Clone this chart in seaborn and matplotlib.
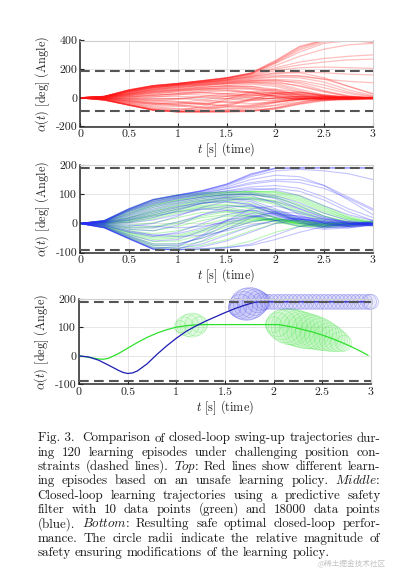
import matplotlib
matplotlib.use("Agg")
import matplotlib.pyplot as plt
import pandas as pd
import seaborn as sns

# ---------------- data ----------------
T = [0, 0.25, 0.5, 0.75, 1.0, 1.25, 1.5, 1.75, 2.0, 2.25, 2.5, 2.75, 3.0]

red_runs = [
    [0, -15, -50, -85, -97, -95, -85, -60, -30, -10, -3, 0, 0],
    [0, -15, -50, -85, -97, -98, -97, -90, -70, -40, -15, -5, -2],
    [0, -15, -50, -85, -96, -80, -50, -20, 0, 10, 5, 0, 0],
    [0, -15, -52, -86, -97, -90, -60, -10, 30, 40, 20, 5, 0],
    [0, -14, -48, -80, -90, -60, -10, 40, 60, 40, 15, 0, -5],
    [0, -15, -50, -85, -98, -99, -99, -95, -80, -45, -20, -10, -5],
    [0, 10, 55, 85, 100, 120, 140, 175, 260, 360, 405, 400, 385],
    [0, 10, 55, 85, 100, 118, 138, 170, 250, 345, 400, 405, 395],
    [0, 9, 50, 82, 98, 116, 135, 168, 240, 320, 380, 398, 400],
    [0, 10, 55, 85, 100, 118, 137, 165, 225, 290, 340, 370, 380],
    [0, 9, 50, 80, 97, 114, 132, 160, 210, 250, 275, 290, 300],
    [0, 9, 50, 80, 96, 112, 130, 155, 200, 230, 250, 265, 270],
    [0, 8, 45, 75, 92, 108, 125, 150, 190, 210, 215, 210, 205],
    [0, 8, 45, 75, 92, 108, 125, 148, 175, 180, 175, 165, 160],
    [0, 8, 42, 70, 88, 105, 120, 140, 160, 150, 130, 115, 105],
    [0, 5, 30, 60, 80, 95, 110, 120, 115, 80, 40, 10, 0],
    [0, 5, 25, 50, 70, 85, 100, 110, 100, 60, 20, 0, -5],
    [0, 3, 20, 40, 55, 70, 85, 95, 80, 40, 10, -5, 0],
    [0, 2, 10, 25, 45, 60, 75, 80, 60, 20, -10, -15, -5],
    [0, 0, 5, 15, 30, 50, 65, 60, 30, 0, -15, -10, 0],
    [0, -2, -5, 5, 20, 40, 50, 40, 10, -15, -20, -5, 5],
    [0, -5, -15, -20, -10, 10, 30, 40, 30, 10, -5, -10, -5],
    [0, -8, -25, -40, -35, -15, 10, 30, 40, 30, 10, 0, 0],
    [0, -10, -35, -55, -60, -45, -20, 10, 30, 20, 0, -10, -5],
    [0, -12, -40, -70, -80, -70, -45, -10, 20, 25, 10, -5, 0],
    [0, 4, 28, 55, 75, 90, 105, 115, 120, 110, 70, 30, 5],
    [0, 6, 35, 65, 85, 100, 115, 125, 130, 120, 90, 40, 10],
    [0, -5, -20, -35, -50, -65, -70, -55, -30, -10, 0, 5, 0],
    [0, 2, 15, 35, 50, 55, 50, 35, 15, 0, -10, -5, 0],
    [0, -3, -10, -15, -25, -45, -60, -50, -20, 5, 15, 5, 0],
    [0, 7, 40, 70, 90, 105, 120, 135, 150, 155, 130, 80, 30],
    [0, -10, -30, -45, -45, -30, -5, 20, 35, 35, 20, 5, -5],
    [0, 3, 22, 45, 60, 75, 85, 80, 50, 15, -5, -10, -10],
    [0, 8, 45, 72, 85, 95, 105, 118, 125, 100, 50, 15, 0],
    [0, 6, 38, 62, 78, 90, 100, 105, 90, 50, 10, -5, 0],
    [0, 4, 30, 52, 65, 75, 80, 70, 40, 5, -10, -5, 5],
    [0, 3, 25, 45, 58, 65, 60, 40, 10, -10, -10, 0, 0],
    [0, 1, 15, 32, 40, 38, 25, 5, -10, -10, 0, 5, 0],
    [0, 0, 8, 20, 25, 20, 10, 0, -5, -5, 0, 0, 0],
    [0, -2, 0, 8, 10, 5, -5, -15, -20, -10, 0, 5, 0],
    [0, -4, -8, -5, -5, -15, -30, -40, -30, -10, 5, 5, 0],
    [0, -6, -18, -25, -30, -40, -55, -65, -55, -30, -5, 5, 0],
    [0, -8, -28, -45, -55, -70, -85, -90, -75, -40, -10, 0, 0],
    [0, -11, -38, -62, -75, -88, -95, -92, -70, -30, -5, 0, -5],
    [0, -13, -45, -75, -90, -95, -90, -70, -35, -5, 10, 5, 0],
    [0, -15, -50, -85, -97, -98, -95, -80, -50, -15, 5, 5, 0],
    [0, 9, 50, 80, 95, 110, 125, 145, 170, 175, 140, 80, 25],
    [0, 7, 42, 72, 88, 100, 112, 130, 145, 140, 110, 55, 15],
    [0, 5, 32, 58, 72, 85, 95, 105, 105, 85, 45, 10, -5],
    [0, 2, 18, 38, 52, 62, 68, 65, 50, 25, 0, -10, -5],
    [0, -1, 5, 18, 30, 35, 30, 20, 5, -5, -5, 0, 0],
    [0, -3, -8, -10, -5, 5, 15, 20, 15, 5, -5, -5, 0],
    [0, -7, -22, -35, -42, -40, -30, -15, 0, 10, 10, 0, 0],
    [0, 10, 55, 85, 100, 120, 140, 172, 255, 355, 400, 400, 390],
    [0, 10, 53, 84, 99, 118, 138, 168, 245, 335, 390, 402, 398],
]

blue_runs = [
    [0, -15, -52, -88, -90, -86, -82, -75, -55, -30, -10, 0, 0],
    [0, -15, -52, -88, -90, -80, -60, -30, 0, 15, 10, 0, -5],
    [0, -15, -52, -88, -88, -60, -20, 20, 40, 35, 15, 0, 0],
    [0, -14, -50, -85, -80, -40, 10, 50, 60, 40, 15, 5, 0],
    [0, 10, 50, 82, 97, 112, 135, 170, 190, 190, 190, 190, 190],
    [0, 10, 50, 82, 97, 112, 133, 165, 188, 190, 190, 190, 190],
    [0, 9, 48, 80, 96, 110, 130, 160, 180, 185, 180, 170, 150],
    [0, 8, 45, 75, 92, 105, 120, 140, 150, 150, 130, 90, 50],
    [0, 8, 42, 70, 88, 100, 112, 125, 130, 120, 90, 50, 20],
    [0, 5, 25, 50, 70, 85, 95, 100, 85, 50, 20, 5, 0],
    [0, 3, 15, 35, 55, 75, 90, 95, 70, 30, 0, -10, -5],
    [0, 0, 5, 20, 45, 70, 85, 75, 40, 5, -15, -10, 0],
    [0, -3, -10, 0, 25, 55, 75, 65, 30, 0, -15, -10, -5],
    [0, -5, -20, -25, -5, 30, 55, 60, 35, 5, -10, -5, 0],
    [0, -8, -30, -45, -30, 0, 30, 45, 40, 15, -5, -10, 0],
    [0, -10, -38, -60, -55, -25, 10, 35, 35, 15, 0, -5, 0],
    [0, -12, -45, -75, -75, -45, -5, 25, 35, 25, 5, -5, 5],
    [0, 2, 10, 25, 40, 50, 45, 30, 10, -10, -20, -15, -5],
    [0, -2, -5, -10, -15, -10, 5, 20, 30, 25, 10, 0, -5],
    [0, 4, 20, 45, 65, 80, 90, 80, 50, 20, 0, -5, 10],
    [0, -6, -25, -40, -45, -40, -25, -5, 10, 20, 15, 5, 0],
    [0, 6, 35, 65, 85, 100, 110, 120, 115, 95, 60, 30, 10],
    [0, 9, 47, 78, 94, 108, 125, 150, 165, 160, 130, 80, 30],
    [0, 7, 40, 68, 84, 95, 105, 115, 120, 110, 80, 40, 10],
    [0, 5, 28, 55, 75, 90, 100, 105, 95, 70, 35, 10, 0],
    [0, 2, 12, 30, 50, 68, 80, 85, 75, 50, 20, 0, -5],
    [0, -1, 2, 12, 30, 48, 60, 60, 45, 20, 0, -10, -5],
    [0, -4, -15, -15, 5, 30, 45, 45, 30, 10, -5, -5, 5],
    [0, -7, -28, -40, -35, -15, 10, 25, 25, 15, 5, 0, 0],
    [0, -11, -42, -70, -70, -50, -20, 5, 20, 15, 5, 0, -5],
    [0, -13, -48, -82, -85, -70, -40, -10, 10, 15, 5, -5, 0],
    [0, -15, -52, -88, -90, -88, -84, -70, -40, -10, 5, 5, 0],
    [0, 8, 44, 74, 90, 103, 118, 135, 145, 140, 120, 85, 45],
    [0, 10, 50, 82, 97, 112, 134, 168, 189, 190, 190, 190, 190],
    [0, 6, 32, 60, 78, 90, 98, 100, 90, 60, 25, 0, -10],
    [0, 3, 18, 40, 58, 70, 75, 65, 40, 10, -10, -15, -5],
]

green_runs = [
    [0, 10, 50, 82, 98, 105, 108, 110, 110, 95, 60, 25, 5],
    [0, 9, 45, 75, 92, 100, 105, 108, 105, 85, 50, 20, 0],
    [0, 7, 38, 65, 82, 95, 100, 100, 90, 65, 35, 10, 0],
    [0, 5, 28, 55, 72, 85, 92, 90, 75, 45, 15, 0, -5],
    [0, 3, 18, 40, 60, 75, 80, 70, 45, 15, -5, -10, 0],
    [0, 1, 10, 28, 48, 62, 65, 50, 20, -5, -15, -5, 0],
    [0, 0, 3, 15, 35, 50, 50, 35, 10, -10, -10, 0, 5],
    [0, -2, -6, 2, 20, 38, 40, 25, 5, -10, -5, 5, 0],
    [0, -4, -15, -15, 0, 20, 30, 25, 10, -5, -10, 0, 0],
    [0, -6, -25, -35, -25, -5, 15, 20, 10, 0, -5, -5, 0],
    [0, -9, -35, -55, -50, -30, -5, 10, 15, 5, 0, 0, 0],
    [0, -11, -42, -70, -70, -50, -20, 5, 15, 10, 0, -5, 0],
    [0, -13, -48, -80, -85, -75, -55, -25, 0, 10, 5, 0, 0],
    [0, -14, -50, -85, -90, -88, -80, -60, -30, -10, 0, 0, 0],
    [0, 2, 12, 30, 50, 68, 80, 85, 70, 40, 10, -5, -5],
    [0, 6, 32, 60, 78, 90, 98, 102, 95, 75, 40, 15, 5],
    [0, -3, -12, -10, 5, 25, 40, 40, 20, 0, -10, -5, 0],
    [0, -7, -30, -45, -40, -20, 5, 15, 10, 0, -5, 0, 5],
    [0, 10, 48, 80, 96, 104, 108, 110, 108, 90, 55, 20, 0],
    [0, 8, 42, 70, 88, 98, 104, 106, 100, 80, 45, 15, 0],
    [0, 6, 35, 62, 80, 92, 98, 98, 88, 60, 25, 5, -5],
    [0, 4, 22, 48, 68, 80, 86, 82, 65, 35, 5, -10, -5],
    [0, 2, 14, 35, 55, 70, 72, 60, 35, 5, -10, -5, 5],
    [0, -1, 5, 20, 40, 55, 55, 42, 20, 0, -10, -5, 0],
    [0, -5, -20, -25, -10, 10, 25, 25, 15, 0, -5, 0, 0],
    [0, -8, -32, -50, -45, -25, 0, 15, 15, 5, -5, -5, 0],
    [0, -12, -45, -75, -78, -62, -35, -10, 10, 10, 0, 0, 0],
    [0, -10, -38, -62, -60, -40, -12, 8, 15, 8, 0, 0, 5],
    [0, 3, 20, 42, 62, 78, 88, 88, 78, 55, 25, 5, 0],
    [0, 0, 8, 25, 42, 58, 62, 55, 35, 10, -5, -5, 0],
]

# bottom panel: resulting closed-loop trajectories
blue_t = [0, 0.1, 0.2, 0.3, 0.4, 0.45, 0.5, 0.55, 0.6, 0.7, 0.8, 0.9, 1.0, 1.1,
          1.2, 1.3, 1.4, 1.5, 1.6, 1.7, 1.8, 1.85, 2.0, 2.5, 3.0]
blue_a = [0, -4, -15, -32, -50, -58, -62, -60, -53, -28, 5, 35, 62, 86,
          105, 122, 137, 152, 166, 178, 188, 190, 190, 190, 190]
green_t = [0, 0.1, 0.2, 0.25, 0.3, 0.4, 0.5, 0.6, 0.7, 0.8, 0.9, 1.0, 1.1, 1.2,
           1.3, 2.05, 2.2, 2.4, 2.5, 2.6, 2.7, 2.8, 2.9, 2.97]
green_a = [0, -5, -11, -12, -9, 7, 27, 47, 65, 80, 92, 101, 106, 109,
           110, 110, 101, 84, 73, 61, 47, 32, 15, 2]

# safety-filter modification circles (centre time, angle, radius in px)
bcirc_t = [1.60, 1.63, 1.66, 1.69, 1.72, 1.75, 1.78, 1.81, 1.84, 1.87, 1.90,
           1.94, 1.98, 2.02, 2.06, 2.10, 2.14, 2.18, 2.22, 2.26, 2.30, 2.34,
           2.38, 2.42, 2.46, 2.50, 2.54, 2.58, 2.62, 2.66, 2.70, 2.74, 2.78,
           2.82, 2.86, 2.90, 2.94, 2.98, 3.00]
bcirc_a = [166, 170, 174, 177, 181, 184, 186, 188, 190, 190, 190,
           190, 190, 190, 190, 190, 190, 190, 190, 190, 190, 190,
           190, 190, 190, 190, 190, 190, 190, 190, 190, 190, 190,
           190, 190, 190, 190, 190, 190]
bcirc_r = [6, 9, 12, 14, 16, 16, 15, 13, 11, 9, 8,
           7.5, 7.5, 7.5, 7.5, 7.5, 7.5, 7.5, 7.5, 7.5, 7.5, 7.5,
           7.5, 7.5, 7.5, 7.5, 7.5, 7.5, 7.5, 7.5, 7.5, 7.5, 7.5,
           7.5, 7.5, 7.5, 7.5, 7.5, 7.5]

gcirc_t = [1.04, 1.08, 1.12, 1.16, 1.20, 1.24,
           2.00, 2.04, 2.08, 2.12, 2.16, 2.20, 2.24, 2.28, 2.32, 2.36, 2.40,
           2.44, 2.48, 2.52, 2.56, 2.60, 2.64, 2.68, 2.72]
gcirc_a = [103, 105, 107, 108, 109, 110,
           110, 110, 109, 106, 103, 101, 97, 93, 89, 86, 84,
           80, 76, 71, 66, 61, 55, 50, 44]
gcirc_r = [6, 9, 11, 12, 11, 8,
           8, 12, 15, 17, 18, 18, 18, 18, 18, 17.5, 17,
           16.5, 16, 15, 14, 13, 11.5, 10, 8]

limits_top = [190, -90]
limits_mid = [190, -90]
limits_bot = [190, -90]

xticks = [0, 0.5, 1, 1.5, 2, 2.5, 3]
xtick_labels = ["0", "0.5", "1", "1.5", "2", "2.5", "3"]
yticks_top = [-200, 0, 200, 400]
ytick_labels_top = ["-200", "0", "200", "400"]
yticks_mid = [-100, 0, 100, 200]
ytick_labels_mid = ["-100", "0", "100", "200"]

caption_lines = [
    "Fig.~3.~ Comparison of closed-loop swing-up trajectories dur-",
    "ing 120 learning episodes under challenging position con-",
    "straints (dashed lines). *Top*: Red lines show different learn-",
    "ing episodes based on an unsafe learning policy. *Middle*:",
    "Closed-loop learning trajectories using a predictive safety",
    "filter with 10 data points (green) and 18000 data points",
    "(blue). *Bottom*: Resulting safe optimal closed-loop perfor-",
    "mance. The circle radii indicate the relative magnitude of",
    "safety ensuring modifications of the learning policy.",
]
watermark = "@稀土掘金技术社区"


def long_df(runs):
    rows = []
    for i, run in enumerate(runs):
        for t, a in zip(T, run):
            rows.append((i, t, a))
    return pd.DataFrame(rows, columns=["run", "t", "alpha"])


# ---------------- style ----------------
sns.set_style("white")
plt.rcParams.update({
    "font.family": ["cmr10", "DejaVu Serif"],
    "mathtext.fontset": "cm",
    "axes.formatter.use_mathtext": True,
    "lines.scale_dashes": False,
    "font.size": 8,
})

W, H = 397, 569
fig = plt.figure(figsize=(W / 100, H / 100), dpi=100)


def add_axes(left, right, top, bottom):
    return fig.add_axes([left / W, 1 - bottom / H, (right - left) / W, (bottom - top) / H])


ax1 = add_axes(80, 373, 40.5, 126.5)
ax2 = add_axes(80, 373, 165, 252.7)
ax3 = add_axes(79, 371, 299, 384.3)

RED = "#ff1414"
BLUE = "#2a2aff"
GREEN = "#2fe62f"

sns.lineplot(data=long_df(red_runs), x="t", y="alpha", units="run", estimator=None,
             color=RED, alpha=0.27, lw=0.9, ax=ax1, legend=False)
sns.lineplot(data=long_df(green_runs), x="t", y="alpha", units="run", estimator=None,
             color=GREEN, alpha=0.33, lw=0.8, ax=ax2, legend=False)
sns.lineplot(data=long_df(blue_runs), x="t", y="alpha", units="run", estimator=None,
             color=BLUE, alpha=0.28, lw=0.8, ax=ax2, legend=False)

# bottom panel circles
px2pt = 72 / 100
ax3.scatter(gcirc_t, gcirc_a, s=[(2 * r * px2pt) ** 2 for r in gcirc_r],
            facecolors=(0.2, 0.9, 0.2, 0.05), edgecolors=(0.2, 0.88, 0.2, 0.3),
            linewidths=0.5, clip_on=False, zorder=2)
ax3.scatter(bcirc_t, bcirc_a, s=[(2 * r * px2pt) ** 2 for r in bcirc_r],
            facecolors=(0.3, 0.3, 0.95, 0.06), edgecolors=(0.25, 0.25, 0.9, 0.32),
            linewidths=0.5, clip_on=False, zorder=2)
sns.lineplot(x=green_t, y=green_a, color="#2ee02e", lw=0.9, ax=ax3, zorder=3)
sns.lineplot(x=blue_t, y=blue_a, color="#1c1cb4", lw=0.9, ax=ax3, zorder=3)

for ax, lims, yt, ytl, ylim in [
    (ax1, limits_top, yticks_top, ytick_labels_top, (-200, 400)),
    (ax2, limits_mid, yticks_mid, ytick_labels_mid, (-100, 200)),
    (ax3, limits_bot, yticks_mid, ytick_labels_mid, (-100, 200)),
]:
    for v in lims:
        ax.axhline(v, color="#555555", lw=1.5, dashes=(7, 3.8), zorder=5)
    ax.set_xlim(0, 3)
    ax.set_ylim(*ylim)
    ax.set_xticks(xticks)
    ax.set_xticklabels(xtick_labels)
    ax.set_yticks(yt)
    ax.set_yticklabels(ytl)
    ax.grid(True, color="#e2e2e2", lw=0.6)
    ax.set_axisbelow(True)
    for s in ["top", "right"]:
        ax.spines[s].set_color("#cfcfcf")
        ax.spines[s].set_linewidth(0.8)
    for s in ["left", "bottom"]:
        ax.spines[s].set_color("#2a2a2a")
        ax.spines[s].set_linewidth(1.1)
    ax.tick_params(direction="in", length=3, width=0.8, labelsize=8.5, pad=2,
                   colors="#222222", left=True, bottom=True)
    ax.set_xlabel(r"$t$ [s] (time)", fontsize=8.8, labelpad=1, color="#222222")
    ax.set_ylabel(r"$\alpha(t)$ [deg] (Angle)", fontsize=8.8, color="#222222")
    ax.yaxis.set_label_coords(-0.095, 0.5)

# ---------------- caption (justified) ----------------
renderer = fig.canvas.get_renderer()
cap_left, cap_right = 37.5, 380.5
base0, lead = 441.5, 14.3
cap_fs = 9.4
for i, line in enumerate(caption_lines):
    words = line.split(" ")
    y = 1 - (base0 + i * lead) / H
    texts = []
    for w in words:
        w = w.replace("~", " ")
        if w.startswith("*"):
            head, tail = w[1:].split("*")
            w = r"$\mathit{" + head + "}$" + tail
        texts.append(fig.text(0, y, w, fontsize=cap_fs, va="baseline", ha="left",
                              color="#1a1a1a"))
    widths = [t.get_window_extent(renderer).width for t in texts]
    last = i == len(caption_lines) - 1
    if last:
        gap = 4.2
    else:
        gap = (cap_right - cap_left - sum(widths)) / max(len(words) - 1, 1)
    x = cap_left
    for t, w in zip(texts, widths):
        t.set_x(x / W)
        x += w + gap

fig.text(386 / W, 1 - 566 / H, watermark, fontsize=5.5, ha="right",
         va="baseline", color="#c4c4c4", family=["Noto Sans CJK SC", "DejaVu Sans"])

fig.savefig("out.png", dpi=100)
